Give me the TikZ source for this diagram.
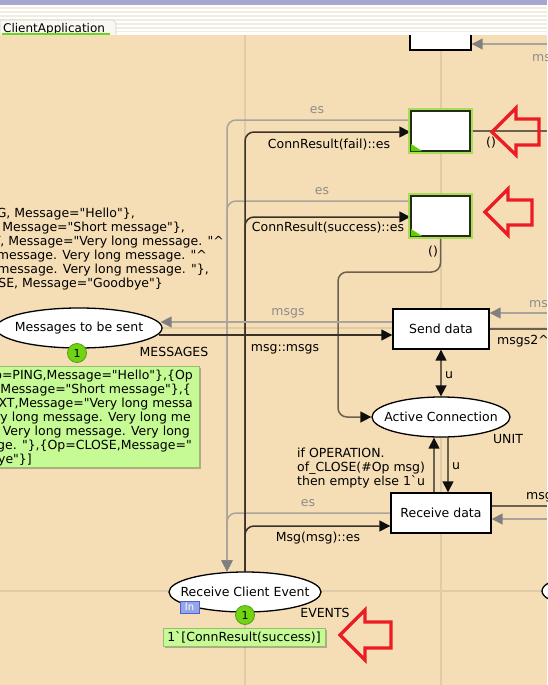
\documentclass[tikz,border=0pt]{standalone}
\usepackage{fontspec}
\setmainfont{DejaVu Sans}
\newfontfamily\cpn{DejaVu Sans}
\usetikzlibrary{arrows.meta,shapes.geometric,shadows}
\definecolor{bgc}{RGB}{245,222,181}
\definecolor{gridc}{RGB}{222,203,168}
\definecolor{darkarc}{RGB}{58,50,40}
\definecolor{midarc}{RGB}{108,96,78}
\definecolor{grayarc}{RGB}{170,165,154}
\definecolor{grayhead}{RGB}{128,128,128}
\definecolor{headc}{RGB}{15,15,15}
\definecolor{graytext}{RGB}{140,140,140}
\definecolor{markgreen}{RGB}{198,250,148}
\definecolor{markedge}{RGB}{150,190,110}
\definecolor{tokgreen}{RGB}{112,212,20}
\definecolor{tokedge}{RGB}{80,160,10}
\definecolor{redc}{RGB}{236,28,36}
\definecolor{glowc}{RGB}{160,220,80}
\definecolor{gtedge}{RGB}{35,45,25}
\definecolor{trigreen}{RGB}{100,205,0}
\definecolor{hdrpurple}{RGB}{166,166,206}
\definecolor{stripec}{RGB}{240,237,224}
\definecolor{tabfill}{RGB}{250,248,240}
\definecolor{tabedge}{RGB}{212,208,196}
\definecolor{tabline}{RGB}{100,215,30}
\definecolor{infill}{RGB}{150,165,232}
\definecolor{inedge}{RGB}{75,95,215}
\pgfdeclarelayer{background}
\pgfsetlayers{background,main}
\begin{document}
\begin{tikzpicture}[x=1pt,y=-1pt,
  every node/.style={font=\cpn\fontsize{12.5}{14}\selectfont},
  trans/.style={rectangle,draw=black,line width=1.4pt,fill=white,inner sep=0pt,minimum height=40pt},
  gt/.style={draw=gtedge,preaction={draw=glowc,line width=6pt,draw opacity=0.9}},
  place/.style={ellipse,draw=black,line width=1.3pt,fill=white,inner sep=0pt,minimum height=40pt},
  dk/.style={line width=1.5pt,draw=darkarc,rounded corners=9pt,-{Triangle[length=11pt,width=11pt,color=headc]}},
  md/.style={line width=1.5pt,draw=midarc,rounded corners=9pt,-{Triangle[length=11pt,width=11pt,color=headc]}},
  gr/.style={line width=1.5pt,draw=grayarc,rounded corners=9pt,-{Triangle[length=11pt,width=11pt,color=grayhead]}},
  lbl/.style={inner sep=0pt,text=black,text height=9.5pt,text depth=0.5pt},
  glbl/.style={lbl,text=graytext},
  markbox/.style={rectangle,fill=markgreen,draw=markedge,line width=0.6pt,inner sep=0pt,
    drop shadow={shadow xshift=2pt,shadow yshift=-2pt,fill=black,opacity=0.25}},
  token/.style={circle,fill=tokgreen,draw=tokedge,line width=0.8pt,minimum size=19pt,inner sep=0pt,
    font=\cpn\fontsize{11}{11}\selectfont},
  redarrow/.style={draw=redc,line width=3.3pt,line join=miter},
  gridl/.style={draw=gridc,line width=1.2pt}]
\useasboundingbox (0,0) rectangle (547,685);

% ---------- nodes ----------
\node[trans,minimum width=61pt] (topT) at (440.5,30) {};
\node[trans,gt,minimum width=59pt] (failT) at (440.5,131) {};
\node[trans,gt,minimum width=59pt] (succT) at (440.5,216) {};
\node[trans,minimum width=96pt] (sendT) at (441,329) {Send data};
\node[trans,minimum width=100pt] (recvT) at (441,513) {Receive data};
\node[place,minimum width=166pt,label={center:Messages to be sent}] (msgP) at (79,328) {};
\node[place,minimum width=138pt,label={center:Active Connection}] (actP) at (441,417) {};
\node[place,minimum width=152pt,label={center:Receive Client Event}] (rcvP) at (245,592) {};
\node[place,minimum width=156pt] (rightP) at (620,591) {};

\fill[trigreen] ([shift={(0.7pt,0.7pt)}]failT.south west) -- ++(0,-7) -- ++(11,7) -- cycle;
\fill[trigreen] ([shift={(0.7pt,0.7pt)}]succT.south west) -- ++(0,-7) -- ++(11,7) -- cycle;

% markings
\node[markbox,minimum width=206pt,minimum height=101pt] (msgM) at (96,416.5) {};
\node[lbl,anchor=east] (m1) at (193,375) {p=PING,Message="Hello"\},\{Op};
\node[lbl,anchor=east] (m2) at (191,389) {Message="Short message"\},\{};
\node[lbl,anchor=east] (m3) at (193,403) {XT,Message="Very long messa};
\node[lbl,anchor=east] (m4) at (191,417) {ry long message. Very long me};
\node[lbl,anchor=east] (m5) at (190,431) {Very long message. Very long};
\node[lbl,anchor=east] (m6) at (192,445) {ge. "\},\{Op=CLOSE,Message="};
\node[lbl,anchor=east] (m7) at (32,459) {ye"\}]};

\node[markbox,minimum width=162pt,minimum height=18pt] (rcvM) at (244,637) {1\textasciigrave[ConnResult(success)]};

\node[token] (tok1) at (77,353) {1};
\node[token] (tok2) at (245,615) {1};
\node[rectangle,fill=infill,draw=inedge,line width=0.8pt,minimum width=19pt,minimum height=12pt,inner sep=0pt,
  text=white,font=\cpn\fontsize{10}{10}\selectfont] (inTag) at (189.5,607) {In};

% initial marking text (top left)
\node[lbl,anchor=east] (t1) at (135,213) {G, Message="Hello"\},};
\node[lbl,anchor=east] (t2) at (185,227) {T, Message="Short message"\},};
\node[lbl,anchor=east] (t3) at (224,241) {T, Message="Very long message. "\textasciicircum};
\node[lbl,anchor=east] (t4) at (207,255) {message. Very long message. "\textasciicircum};
\node[lbl,anchor=east] (t5) at (209,269) {message. Very long message. "\},};
\node[lbl,anchor=east] (t6) at (163,283) {SE, Message="Goodbye"\}};

% arc labels
\node[glbl] (lEs1) at (317,109) {es};
\node[lbl] (lFail) at (329,144) {ConnResult(fail)::es};
\node[lbl] (lU1) at (491,142) {()};
\node[glbl] (lEs2) at (322,190) {es};
\node[lbl] (lSucc) at (328,227) {ConnResult(success)::es};
\node[lbl] (lU2) at (433,251) {()};
\node[glbl] (lMsgs) at (288,311) {msgs};
\node[lbl] (lMsgMsgs) at (285,347) {msg::msgs};
\node[lbl] (lMessages) at (174,352) {MESSAGES};
\node[lbl] (lu1) at (449,374) {u};
\node[lbl] (lUnit) at (508,439) {UNIT};
\node[lbl] (lu2) at (456,465) {u};
\node[lbl,anchor=west] (if1) at (297,453) {if OPERATION.};
\node[lbl,anchor=west] (if2) at (297,467) {of\_CLOSE(\#Op msg)};
\node[lbl,anchor=west] (if3) at (297,481) {then empty else 1\textasciigrave u};
\node[glbl] (lEs3) at (308,502) {es};
\node[lbl] (lMsgEs) at (318,537) {Msg(msg)::es};
\node[lbl] (lEvents) at (325,613) {EVENTS};
\node[glbl,anchor=west] (lMs1) at (532,57) {ms};
\node[glbl,anchor=west] (lMs2) at (529,303) {ms};
\node[lbl,anchor=west] (lMsgs2) at (497,340) {msgs2\textasciicircum};
\node[lbl,anchor=west] (lMsg) at (526,495) {msg};

% red arrows
\draw[redarrow] (492,132) -- (516,108) -- (516,119) -- (539,119) -- (539,145) -- (516,145) -- (516,155) -- cycle;
\draw[redarrow] (485,212) -- (508,189) -- (508,200) -- (532,200) -- (532,225) -- (508,225) -- (508,235) -- cycle;
\draw[redarrow] (340,635) -- (365,610) -- (365,622) -- (391,622) -- (391,648) -- (365,648) -- (365,660) -- cycle;

% ---------- background: canvas, grid, arcs ----------
\begin{pgfonlayer}{background}
\fill[bgc] (0,35) rectangle (547,685);
\draw[gridl] (245,35) -- (245,685);
\draw[gridl] (441,35) -- (441,685);
\draw[gridl] (0,328) -- (547,328);
\draw[gridl] (0,591) -- (547,591);
% gray arcs back to Receive Client Event
\draw[gr] ([yshift=11pt]failT.west) -| ([xshift=-18pt]rcvP.north);
\draw[gr] ([yshift=15pt]succT.west) -| ([xshift=-18pt]rcvP.north);
\draw[gr] (recvT.west) -| ([xshift=-18pt]rcvP.north);
% black arcs from Receive Client Event
\draw[dk] (rcvP.north) |- ([yshift=-1pt]failT.west);
\draw[dk] (rcvP.north) |- ([yshift=-1pt]succT.west);
\draw[dk] (rcvP.north) |- ([yshift=-13pt]recvT.west);
% success -> Active Connection
\draw[md] (succT.south) |- (338,272) |- (actP.west);
% messages <-> send data
\draw[dk] ([xshift=-4pt,yshift=-7pt]msgP.east) -- ([yshift=-6pt]sendT.west);
\draw[gr] ([yshift=7pt]sendT.west) -- ([xshift=-2pt,yshift=6pt]msgP.east);
% send data <-> active connection
\draw[md,{Triangle[length=11pt,width=11pt,color=headc]}-{Triangle[length=11pt,width=11pt,color=headc]}] (sendT.south) -- (actP.north);
% receive data <-> active connection
\coordinate (k1) at ([xshift=-7pt]recvT.north);
\coordinate (k2) at ([xshift=7pt]recvT.north);
\draw[md] (k1) -- (k1 |- actP.south);
\draw[md] (k2 |- actP.south) -- (k2);
% arcs leaving the right edge
\coordinate (eTop) at (547,44);
\coordinate (eFail) at (547,131);
\coordinate (eS1) at (547,313);
\coordinate (eS2) at (547,329);
\coordinate (eR1) at (547,506);
\coordinate (eR2) at (547,519);
\draw[gr] (eTop) -- (eTop -| topT.east);
\draw[md,-] (failT.east) -- (eFail);
\draw[gr] (eS1) -- (eS1 -| sendT.east);
\draw[md,-] (sendT.east) -- (eS2);
\draw[md,-] (eR1 -| recvT.east) -- (eR1);
\draw[gr] (eR2) -- (eR2 -| recvT.east);
\end{pgfonlayer}

% ---------- header ----------
\fill[stripec] (0,5) rectangle (547,35);
\foreach \yy in {5,9,...,33} \fill[white] (0,\yy) rectangle (547,\yy+2);
\fill[white] (0,32.5) rectangle (547,35);
\fill[hdrpurple] (0,0) rectangle (547,5);
\filldraw[fill=tabfill,draw=tabedge,line width=0.6pt] (0,35) -- (0,20) -- (113,20) -- (116,23) -- (116,35);
\node[lbl,anchor=west,font=\cpn\fontsize{12}{14}\selectfont] (tab) at (3,28) {ClientApplication};
\draw[tabline,line width=1.6pt] (2,34.2) -- (110,34.2);
\end{tikzpicture}
\end{document}
